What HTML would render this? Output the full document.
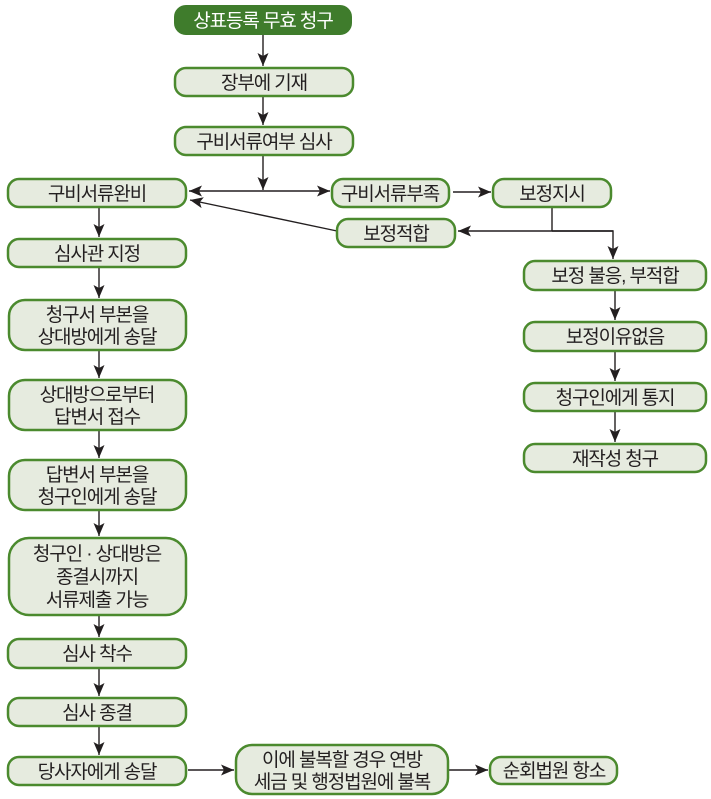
<!DOCTYPE html>
<html><head><meta charset="utf-8">
<style>
html,body{margin:0;padding:0;background:#fff;}
svg{display:block;}
text{font-family:"Liberation Sans","Noto Sans CJK KR",sans-serif;font-size:19px;letter-spacing:-1.1px;fill:#231f20;text-anchor:middle;}
.b{fill:#e6ebdf;stroke:#4b8a2e;stroke-width:2.5;}
.l{stroke:#231f20;stroke-width:1.4;fill:none;}
</style></head>
<body>
<svg width="711" height="799" viewBox="0 0 711 799" xmlns="http://www.w3.org/2000/svg">
<defs>
<marker id="a" markerWidth="14" markerHeight="12" refX="13" refY="6" orient="auto-start-reverse" markerUnits="userSpaceOnUse">
<path d="M0,0.5 L13,6 L0,11.5 L3,6 z" fill="#231f20"/>
</marker>
</defs>

<!-- connectors -->
<line class="l" x1="263" y1="34" x2="263" y2="66" marker-end="url(#a)"/>
<line class="l" x1="263" y1="97" x2="263" y2="125" marker-end="url(#a)"/>
<line class="l" x1="263" y1="156" x2="263" y2="190" marker-end="url(#a)"/>
<line class="l" x1="189" y1="191" x2="330" y2="191" marker-start="url(#a)" marker-end="url(#a)"/>
<line class="l" x1="453" y1="192" x2="491" y2="192" marker-end="url(#a)"/>
<line class="l" x1="337" y1="231" x2="190" y2="200" marker-end="url(#a)"/>
<polyline class="l" points="552,208 552,231"/>
<line class="l" x1="613" y1="231" x2="458" y2="231" marker-end="url(#a)"/>
<polyline class="l" points="552,231 613,231 613,259" marker-end="url(#a)"/>
<line class="l" x1="615" y1="291" x2="615" y2="320" marker-end="url(#a)"/>
<line class="l" x1="615" y1="352" x2="615" y2="381" marker-end="url(#a)"/>
<line class="l" x1="615" y1="412" x2="615" y2="442" marker-end="url(#a)"/>

<line class="l" x1="99" y1="208" x2="99" y2="237" marker-end="url(#a)"/>
<line class="l" x1="99" y1="268" x2="99" y2="298" marker-end="url(#a)"/>
<line class="l" x1="99" y1="351" x2="99" y2="378" marker-end="url(#a)"/>
<line class="l" x1="99" y1="431" x2="99" y2="458" marker-end="url(#a)"/>
<line class="l" x1="99" y1="511" x2="99" y2="536" marker-end="url(#a)"/>
<line class="l" x1="99" y1="616" x2="99" y2="637" marker-end="url(#a)"/>
<line class="l" x1="99" y1="669" x2="99" y2="696" marker-end="url(#a)"/>
<line class="l" x1="99" y1="727" x2="99" y2="755" marker-end="url(#a)"/>
<line class="l" x1="188" y1="770" x2="234" y2="770" marker-end="url(#a)"/>
<line class="l" x1="449" y1="770" x2="488" y2="770" marker-end="url(#a)"/>

<!-- boxes -->
<rect x="175" y="6" width="176" height="28" rx="11" fill="#3f7c2c" stroke="#3f7c2c" stroke-width="2"/>
<text x="263" y="27" style="fill:#fff">상표등록 무효 청구</text>

<rect class="b" x="175" y="68" width="178" height="28" rx="11"/>
<text x="264" y="89">장부에 기재</text>

<rect class="b" x="175" y="127" width="178" height="28" rx="11"/>
<text x="264" y="148">구비서류여부 심사</text>

<rect class="b" x="8" y="179" width="178" height="28" rx="11"/>
<text x="97" y="200">구비서류완비</text>

<rect class="b" x="332" y="179" width="117" height="28" rx="11"/>
<text x="390" y="200">구비서류부족</text>

<rect class="b" x="493" y="179" width="118" height="28" rx="11"/>
<text x="552" y="200">보정지시</text>

<rect class="b" x="337" y="219" width="118" height="28" rx="11"/>
<text x="396" y="240">보정적합</text>

<rect class="b" x="524" y="261" width="182" height="29" rx="11"/>
<text x="615" y="282">보정 불응, 부적합</text>

<rect class="b" x="524" y="322" width="182" height="29" rx="11"/>
<text x="615" y="343">보정이유없음</text>

<rect class="b" x="524" y="383" width="182" height="28" rx="11"/>
<text x="615" y="404">청구인에게 통지</text>

<rect class="b" x="524" y="444" width="182" height="28" rx="11"/>
<text x="615" y="465">재작성 청구</text>

<rect class="b" x="8" y="239" width="178" height="28" rx="11"/>
<text x="97" y="260">심사관 지정</text>

<rect class="b" x="9" y="300" width="177" height="50" rx="16"/>
<text x="97" y="321">청구서 부본을</text>
<text x="97" y="343">상대방에게 송달</text>

<rect class="b" x="9" y="380" width="177" height="50" rx="16"/>
<text x="97" y="401">상대방으로부터</text>
<text x="97" y="423">답변서 접수</text>

<rect class="b" x="9" y="460" width="177" height="50" rx="16"/>
<text x="97" y="481">답변서 부본을</text>
<text x="97" y="503">청구인에게 송달</text>

<rect class="b" x="9" y="538" width="177" height="77" rx="20"/>
<text x="97" y="560">청구인 · 상대방은</text>
<text x="97" y="583">종결시까지</text>
<text x="97" y="606">서류제출 가능</text>

<rect class="b" x="8" y="639" width="178" height="29" rx="11"/>
<text x="97" y="660">심사 착수</text>

<rect class="b" x="8" y="698" width="178" height="28" rx="11"/>
<text x="97" y="719">심사 종결</text>

<rect class="b" x="8" y="757" width="178" height="28" rx="11"/>
<text x="97" y="778">당사자에게 송달</text>

<rect class="b" x="236" y="745" width="212" height="49" rx="16"/>
<text x="342" y="766">이에 불복할 경우 연방</text>
<text x="342" y="788">세금 및 행정법원에 불복</text>

<rect class="b" x="490" y="757" width="127" height="27" rx="11"/>
<text x="554" y="777">순회법원 항소</text>
</svg>
</body></html>
